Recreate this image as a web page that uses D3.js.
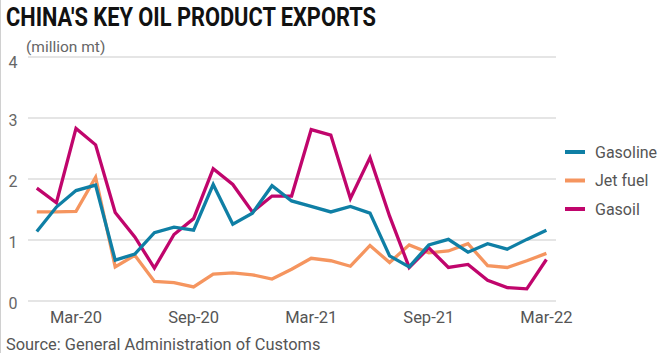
<!DOCTYPE html>
<html>
<head>
<meta charset="utf-8">
<script src="https://cdn.jsdelivr.net/npm/d3@7"></script>
<style>
  html, body { margin: 0; padding: 0; background: #fff; }
  svg { display: block; font-family: Roboto, "Noto Sans", sans-serif; }
</style>
</head>
<body>
<svg id="chart" width="662" height="353"></svg>
<script>
// ===== Data (million mt, monthly Jan-20 .. Mar-22) =====
const months = [
  'Jan-20', 'Feb-20', 'Mar-20', 'Apr-20', 'May-20', 'Jun-20', 'Jul-20', 'Aug-20', 'Sep-20', 'Oct-20', 'Nov-20', 'Dec-20',
  'Jan-21', 'Feb-21', 'Mar-21', 'Apr-21', 'May-21', 'Jun-21', 'Jul-21', 'Aug-21', 'Sep-21', 'Oct-21', 'Nov-21', 'Dec-21',
  'Jan-22', 'Feb-22', 'Mar-22'
];
const gasoline = [
  1.14, 1.54, 1.81, 1.90, 0.67, 0.77, 1.12, 1.21, 1.16, 1.91, 1.26, 1.44,
  1.89, 1.64, 1.55, 1.46, 1.55, 1.44, 0.74, 0.56, 0.92, 1.01, 0.80, 0.94,
  0.85, 1.01, 1.16
];
const jetFuel = [
  1.46, 1.46, 1.47, 2.03, 0.56, 0.75, 0.32, 0.30, 0.23, 0.44, 0.46, 0.43,
  0.36, 0.52, 0.70, 0.66, 0.57, 0.91, 0.63, 0.92, 0.79, 0.82, 0.94, 0.58,
  0.55, 0.66, 0.78
];
const gasoil = [
  1.85, 1.61, 2.83, 2.56, 1.45, 1.05, 0.54, 1.09, 1.35, 2.17, 1.91, 1.46,
  1.72, 1.72, 2.81, 2.72, 1.68, 2.35, 1.39, 0.55, 0.87, 0.55, 0.60, 0.34,
  0.22, 0.20, 0.68
];
const seriesNames = ['Gasoline', 'Jet fuel', 'Gasoil'];
const seriesColors = ['#0f7fa5', '#f5955f', '#c0056c'];
const xTickLabels = ['Mar-20', 'Sep-20', 'Mar-21', 'Sep-21', 'Mar-22'];
const yTicks = [0, 1, 2, 3, 4];

const series = [
  { name: seriesNames[0], color: seriesColors[0], values: gasoline },
  { name: seriesNames[1], color: seriesColors[1], values: jetFuel },
  { name: seriesNames[2], color: seriesColors[2], values: gasoil }
];

// ===== Layout =====
const svg = d3.select('#chart');
const gridLeft = 28, gridRight = 556;

const x = d3.scalePoint().domain(months).range([36.8, 546.4]);
const y = d3.scaleLinear().domain([0, 4]).range([301, 57]);

// thin frame on the left edge
svg.append('line')
    .attr('x1', 0.5).attr('x2', 0.5).attr('y1', 0).attr('y2', 353)
    .style('stroke', '#d0d0d0').style('stroke-width', '1px');

// Title
svg.append('text')
    .attr('x', 6).attr('y', 26)
    .attr('textLength', 370).attr('lengthAdjust', 'spacingAndGlyphs')
    .style('font-size', '25px').style('font-weight', 700).style('fill', '#111')
    .text("CHINA'S KEY OIL PRODUCT EXPORTS");

// Units
svg.append('text')
    .attr('x', 26).attr('y', 52)
    .style('font-size', '15.5px').style('fill', '#666')
    .text('(million mt)');

// Gridlines + y labels
yTicks.forEach(t => {
    svg.append('line')
        .attr('x1', gridLeft).attr('x2', gridRight)
        .attr('y1', y(t)).attr('y2', y(t))
        .style('stroke', '#dcdcdc').style('stroke-width', '1.5px');
    svg.append('text')
        .attr('x', 13).attr('y', y(t) + (t === 4 ? 11 : 7.5))
        .attr('text-anchor', 'middle')
        .style('font-size', '16px').style('fill', '#666')
        .text(t);
});

// X tick labels
xTickLabels.forEach(lbl => {
    svg.append('text')
        .attr('x', x(lbl)).attr('y', 323)
        .attr('text-anchor', 'middle')
        .style('font-size', '16.5px').style('fill', '#555')
        .text(lbl);
});

// Lines (draw jet fuel first, gasoline on top)
const line = d3.line()
    .x((d, i) => x(months[i]))
    .y(d => y(d));

[series[1], series[2], series[0]].forEach(s => {
    svg.append('path')
        .datum(s.values)
        .attr('d', line)
        .style('fill', 'none')
        .style('stroke', s.color)
        .style('stroke-width', '3.3px')
        .style('stroke-linejoin', 'miter');
});

// Legend
series.forEach((s, i) => {
    const ly = 152 + i * 28.5;
    svg.append('line')
        .attr('x1', 565).attr('x2', 585).attr('y1', ly).attr('y2', ly)
        .style('stroke', s.color).style('stroke-width', '4px');
    svg.append('text')
        .attr('x', 595).attr('y', ly + 5.5)
        .style('font-size', '16px').style('fill', '#555')
        .text(s.name);
});

// Source
svg.append('text')
    .attr('x', 6).attr('y', 350)
    .style('font-size', '16.4px').style('fill', '#555')
    .text('Source: General Administration of Customs');
</script>
</body>
</html>
